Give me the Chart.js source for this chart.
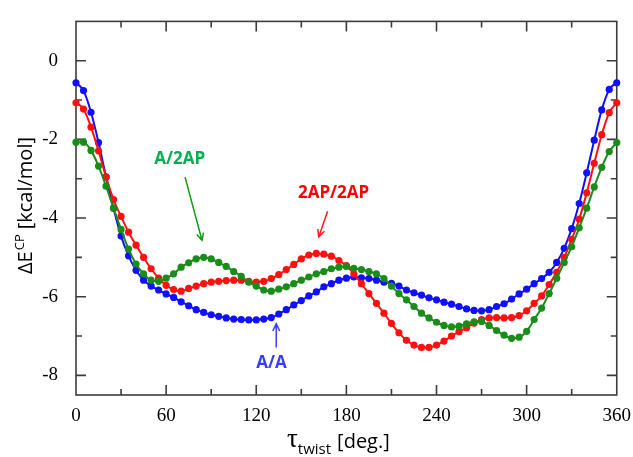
<!DOCTYPE html>
<html>
<head>
<meta charset="utf-8">
<style>
  body { margin: 0; background: #fff; }
  #wrap { width: 633px; height: 457px; }
</style>
</head>
<body>
<div id="wrap">
  <canvas id="myChart" width="633" height="457"></canvas>
</div>

<script src="https://cdn.jsdelivr.net/npm/chart.js@4.4.1/dist/chart.umd.min.js"></script>

<script>

// twist angle (deg.)
const angles = [0, 5, 10, 15, 20, 25, 30, 35, 40, 45, 50, 55, 60, 65, 70, 75, 80, 85, 90, 95,
  100, 105, 110, 115, 120, 125, 130, 135, 140, 145, 150, 155, 160, 165, 170, 175, 180, 185, 190, 195,
  200, 205, 210, 215, 220, 225, 230, 235, 240, 245, 250, 255, 260, 265, 270, 275, 280, 285, 290, 295,
  300, 305, 310, 315, 320, 325, 330, 335, 340, 345, 350, 355, 360];

// dE(CP) kcal/mol
const aaEnergy = [-0.56, -0.76, -1.31, -2.08, -2.95, -3.75, -4.46, -4.96, -5.33, -5.58,
  -5.73, -5.83, -5.93, -6.02, -6.13, -6.23, -6.33, -6.40, -6.46, -6.50,
  -6.54, -6.57, -6.58, -6.59, -6.59, -6.57, -6.53, -6.44, -6.33, -6.21,
  -6.10, -5.98, -5.88, -5.75, -5.67, -5.58, -5.53, -5.50, -5.52, -5.54,
  -5.58, -5.63, -5.66, -5.73, -5.83, -5.90, -5.96, -6.03, -6.08, -6.14,
  -6.19, -6.25, -6.31, -6.35, -6.36, -6.33, -6.25, -6.18, -6.06, -5.93,
  -5.81, -5.67, -5.54, -5.38, -5.13, -4.77, -4.27, -3.63, -2.85, -2.02,
  -1.25, -0.73, -0.56];

const apapEnergy = [-1.07, -1.23, -1.69, -2.29, -2.96, -3.53, -3.96, -4.36, -4.69, -5.00,
  -5.29, -5.53, -5.71, -5.82, -5.86, -5.79, -5.73, -5.67, -5.63, -5.61,
  -5.59, -5.58, -5.58, -5.61, -5.63, -5.61, -5.54, -5.44, -5.31, -5.18,
  -5.04, -4.94, -4.90, -4.92, -4.97, -5.08, -5.21, -5.42, -5.67, -5.92,
  -6.17, -6.42, -6.68, -6.92, -7.11, -7.23, -7.29, -7.29, -7.23, -7.13,
  -7.00, -6.89, -6.79, -6.67, -6.58, -6.54, -6.53, -6.54, -6.53, -6.48,
  -6.36, -6.17, -5.98, -5.69, -5.38, -5.00, -4.54, -4.03, -3.36, -2.61,
  -1.88, -1.32, -1.07];

const a2apEnergy = [-2.07, -2.07, -2.28, -2.68, -3.19, -3.75, -4.29, -4.79, -5.17, -5.42,
  -5.58, -5.61, -5.53, -5.42, -5.25, -5.14, -5.04, -5.00, -5.04, -5.13,
  -5.23, -5.36, -5.48, -5.63, -5.73, -5.83, -5.86, -5.81, -5.75, -5.67,
  -5.58, -5.50, -5.42, -5.36, -5.29, -5.25, -5.23, -5.28, -5.31, -5.36,
  -5.42, -5.54, -5.73, -5.92, -6.08, -6.25, -6.42, -6.54, -6.65, -6.73,
  -6.77, -6.75, -6.69, -6.64, -6.63, -6.73, -6.86, -6.98, -7.06, -7.03,
  -6.88, -6.58, -6.29, -5.92, -5.53, -5.13, -4.73, -4.25, -3.75, -3.21,
  -2.71, -2.31, -2.08];

const seriesNames = ['A/2AP', '2AP/2AP', 'A/A'];

// axis ticks (labelled ones are every 60 deg. and every 2 kcal/mol)
const xTicks = [0, 30, 60, 90, 120, 150, 180, 210, 240, 270, 300, 330, 360];
const yTicks = [-8, -7, -6, -5, -4, -3, -2, -1, 0, 1];

function pts(ys) {
  return angles.map((a, i) => ({ x: a, y: ys[i] }));
}

function lineSet(label, ys, color) {
  return {
    label: label,
    data: pts(ys),
    borderColor: color,
    backgroundColor: color,
    borderWidth: 2,
    pointRadius: 3.6,
    pointBorderWidth: 0,
    pointBackgroundColor: color,
    cubicInterpolationMode: 'monotone',
    clip: false
  };
}

// labels with arrows, placed in data coordinates
const notes = [
  { text: 'A/2AP',   color: '#00b050', arrow: '#139a13', at: [69, -2.5],    from: [72.6, -2.96],  to: [83.9, -4.57] },
  { text: '2AP/2AP', color: '#ff0000', arrow: '#ff1a1a', at: [171.5, -3.38], from: [167.5, -3.83], to: [161.6, -4.48] },
  { text: 'A/A',     color: '#3b3bff', arrow: '#3b3bff', at: [130.1, -7.68], from: [133.3, -7.29], to: [133.3, -6.69] }
];

const frameTicks = {
  id: 'frameTicks',
  beforeDatasetsDraw(chart) {
    const { ctx, chartArea: a, scales: { x, y } } = chart;
    ctx.save();
    ctx.strokeStyle = '#3c3c3c';
    ctx.lineWidth = 1.6;
    ctx.strokeRect(a.left, a.top, a.right - a.left, a.bottom - a.top);
    ctx.beginPath();
    xTicks.forEach(v => {
      if (v <= 0 || v >= 360) return;
      const px = x.getPixelForValue(v);
      const len = v % 60 === 0 ? 10 : 6;
      ctx.moveTo(px, a.bottom); ctx.lineTo(px, a.bottom - len);
      ctx.moveTo(px, a.top); ctx.lineTo(px, a.top + len);
    });
    yTicks.forEach(v => {
      if (v >= 1) return;
      const py = y.getPixelForValue(v);
      const len = v % 2 === 0 ? 10 : 6;
      ctx.moveTo(a.left, py); ctx.lineTo(a.left + len, py);
      ctx.moveTo(a.right, py); ctx.lineTo(a.right - len, py);
    });
    ctx.stroke();
    ctx.restore();
  },
  afterDraw(chart) {
    const { ctx, scales: { x, y } } = chart;
    ctx.save();

    // annotations
    notes.forEach(n => {
      ctx.fillStyle = n.color;
      ctx.font = 'bold 17px "Open Sans"';
      ctx.textAlign = 'center';
      ctx.textBaseline = 'middle';
      ctx.fillText(n.text, x.getPixelForValue(n.at[0]), y.getPixelForValue(n.at[1]));

      const x0 = x.getPixelForValue(n.from[0]), y0 = y.getPixelForValue(n.from[1]);
      const x1 = x.getPixelForValue(n.to[0]), y1 = y.getPixelForValue(n.to[1]);
      const ang = Math.atan2(y1 - y0, x1 - x0);
      ctx.strokeStyle = n.arrow;
      ctx.lineWidth = 1.5;
      ctx.beginPath();
      ctx.moveTo(x0, y0); ctx.lineTo(x1, y1);
      ctx.moveTo(x1 - 8 * Math.cos(ang - 0.45), y1 - 8 * Math.sin(ang - 0.45));
      ctx.lineTo(x1, y1);
      ctx.lineTo(x1 - 8 * Math.cos(ang + 0.45), y1 - 8 * Math.sin(ang + 0.45));
      ctx.stroke();
    });

    // x title: tau_twist [deg.]
    ctx.fillStyle = '#000';
    ctx.textAlign = 'left';
    ctx.textBaseline = 'alphabetic';
    let cx = 287;
    ctx.font = '27px "Liberation Serif"';
    ctx.fillText('\u03c4', cx, 447);
    cx += ctx.measureText('\u03c4').width;
    ctx.font = '15px "Open Sans"';
    ctx.fillText('twist', cx, 454);
    cx += ctx.measureText('twist').width + 6;
    ctx.font = '20px "Open Sans"';
    ctx.fillText('[deg.]', cx, 448);

    // y title: dE^CP [kcal/mol]
    ctx.translate(32, 274);
    ctx.rotate(-Math.PI / 2);
    let cy = 0;
    ctx.font = '20px "Open Sans"';
    ctx.fillText('\u0394E', cy, 0);
    cy += ctx.measureText('\u0394E').width + 1;
    ctx.font = '13px "Open Sans"';
    ctx.fillText('CP', cy, -8);
    cy += ctx.measureText('CP').width + 5;
    ctx.font = '20px "Open Sans"';
    ctx.fillText('[kcal/mol]', cy, 0);

    ctx.restore();
  }
};

const ctx = document.getElementById('myChart');

let chart = new Chart(ctx, {
  type: 'line',
  data: {
    datasets: [
      lineSet(seriesNames[0], a2apEnergy, '#1a8c1a'),
      lineSet(seriesNames[1], apapEnergy, '#ff1010'),
      lineSet(seriesNames[2], aaEnergy, '#1010ff')
    ]
  },
  options: {
    responsive: false,
    animation: false,
    layout: { padding: { left: 0, top: 15, right: 13, bottom: 0 } },
    plugins: {
      legend: { display: false },
      tooltip: { enabled: false }
    },
    scales: {
      x: {
        type: 'linear',
        min: 0,
        max: 360,
        afterFit: s => { s.height = 62; },
        afterBuildTicks: s => { s.ticks = xTicks.map(v => ({ value: v })); },
        grid: { display: false },
        border: { display: false },
        ticks: {
          autoSkip: false,
          maxRotation: 0,
          padding: 2,
          color: '#000',
          font: { family: '"Liberation Serif"', size: 19 },
          callback: v => (v % 60 === 0 ? v : '')
        }
      },
      y: {
        min: -8.5,
        max: 1,
        afterFit: s => { s.width = 76; },
        afterBuildTicks: s => { s.ticks = yTicks.map(v => ({ value: v })); },
        grid: { display: false },
        border: { display: false },
        ticks: {
          autoSkip: false,
          padding: 10,
          color: '#000',
          font: { family: '"Liberation Serif"', size: 19 },
          callback: v => (v % 2 === 0 && v < 1 ? v : '')
        }
      }
    }
  },
  plugins: [frameTicks]
});

</script>
</body>
</html>
